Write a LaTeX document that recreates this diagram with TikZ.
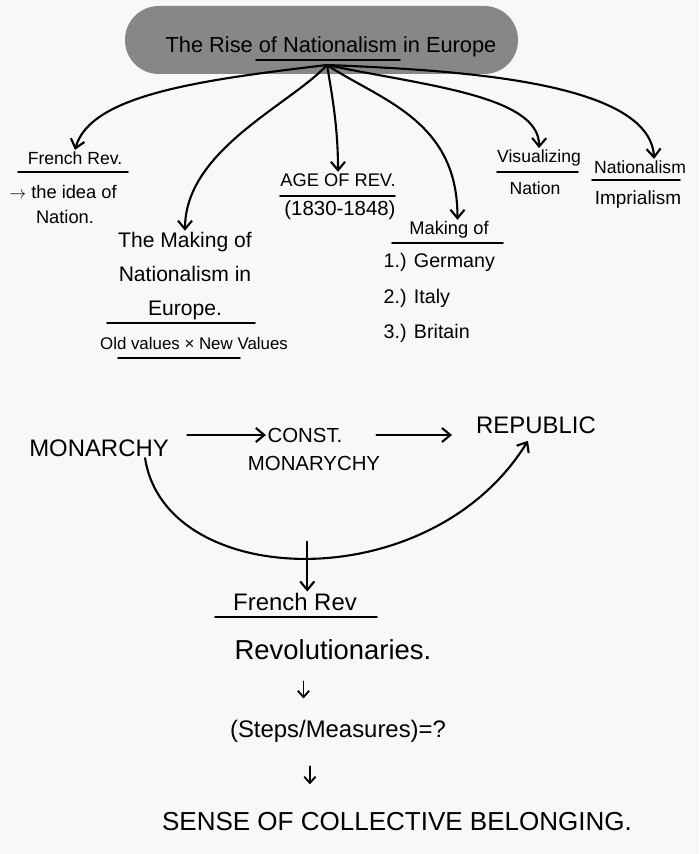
\documentclass[tikz,border=0pt]{standalone}
\usepackage{fontspec}
\setmainfont{Liberation Sans}
\usetikzlibrary{arrows.meta,calc}
\definecolor{paper}{RGB}{250,248,247}
\definecolor{blobgray}{RGB}{135,135,135}
\tikzset{
  txt/.style 2 args={inner sep=1pt, font=\fontsize{#1}{#2}\selectfont},
  arr/.style={line width=1.5pt, line cap=round, -{Straight Barb[length=6pt,width=10pt]}},
  arrs/.style={line width=1.3pt, line cap=round, -{Straight Barb[length=4.5pt,width=8pt]}},
  uline/.style={line width=1.3pt, line cap=round},
  blob/.style={fill=blobgray, rounded corners=24pt}
}
\begin{document}
\begin{tikzpicture}[x=0.025cm, y=0.025cm]
\fill[paper] (0,0) rectangle (699,-854);
\useasboundingbox (0,0) rectangle (699,-854);

% Title
\fill[blob] (125,-6) rectangle (518,-74);
\node[txt={15.5}{18}] (title) at (331,-47) {The Rise of Nationalism in Europe};
\draw[uline] (256,-60) -- (400,-60);
\coordinate (hub) at (327,-65);

% Topics
\node[txt={12.5}{15}] (frenchrev) at (75,-158) {French Rev.};
\draw[uline] (18,-172) -- (128,-172);
\node[txt={13}{15}] (idea) at (63,-192) {$\rightarrow$ the idea of};
\node[txt={13}{15}] (nation) at (65,-217) {Nation.};

\node[txt={15}{24}, align=center] (making) at (185,-276) {The Making of\\Nationalism in\\Europe.};
\draw[uline] (107,-323) -- (255,-323);
\node[txt={12}{14}] (oldnew) at (194,-343) {Old values × New Values};
\draw[uline] (118,-358) -- (240,-358);

\node[txt={13}{15}] (agerev) at (338,-180) {AGE OF REV.};
\draw[uline] (280,-196) -- (395,-196);
\node[txt={14.5}{17}] (years) at (340,-210) {(1830-1848)};

\node[txt={13}{15}] (makingof) at (449,-230) {Making of};
\draw[uline] (392,-243) -- (503,-243);
\node[txt={14}{25}, align=left, anchor=west] (states) at (382,-298) {1.) Germany\\2.) Italy\\3.) Britain};

\node[txt={12.5}{15}] (visual) at (539,-158) {Visualizing};
\draw[uline] (497,-172) -- (578,-172);
\node[txt={12.5}{15}] (nation2) at (535,-188) {Nation};

\node[txt={12.5}{15}] (nat) at (640,-167) {Nationalism};
\draw[uline] (592,-180) -- (680,-180);
\node[txt={13.5}{15}] (impr) at (638,-200) {Imprialism};

% Branches
\draw[arr] (hub) .. controls (200,-80) and (90,-95) .. (frenchrev.north);
\draw[arr] (hub) .. controls (290,-105) and (185,-150) .. (making.north);
\draw[arr] (hub) .. controls (333,-100) and (338,-130) .. (agerev.north);
\draw[arr] (hub) .. controls (380,-100) and (458,-120) .. ([xshift=6pt]makingof.north);
\draw[arr] (hub) .. controls (420,-85) and (540,-95) .. (visual.north);
\draw[arr] (hub) .. controls (450,-70) and (650,-80) .. ([xshift=10pt]nat.north);

% Forms of government
\node[txt={17}{20}] (mon) at (99,-448) {MONARCHY};
\node[txt={14.5}{17}] (const) at (305,-435) {CONST.};
\node[txt={14.5}{17}] (constb) at (314,-463) {MONARYCHY};
\node[txt={17}{20}] (rep) at (536,-425) {REPUBLIC};

\draw[arr, shorten <=12pt] (mon.east |- const.west) -- (const.west);
\draw[arr, shorten <=23pt, shorten >=16pt] (const.east) -- (const.east -| rep.west);
\draw[arr] ([xshift=-18pt]mon.south east) .. controls (165,-590) and (430,-600) ..
  ([shift={(38pt,-4pt)}]rep.south west) coordinate[pos=0.5] (low);

% Lower chain
\node[txt={17}{20}] (frev2) at (295,-602) {French Rev};
\draw[uline] (215,-617) -- (377,-617);
\node[txt={19.5}{22}] (revs) at (333,-650) {Revolutionaries.};
\node[txt={17}{20}] (steps) at (338,-731) {(Steps/Measures)=?};
\node[txt={18.5}{22}] (sense) at (397,-822) {SENSE OF COLLECTIVE BELONGING.};

\draw[arr] ([yshift=12pt]low) -- (low |- frev2.north);
\draw[arrs, shorten <=14pt, shorten >=14pt] ([xshift=-21pt]revs.south) -- ([xshift=-21pt]revs.south |- steps.north);
\draw[arrs, shorten <=16pt, shorten >=19pt] ([xshift=-20pt]steps.south) -- ([xshift=-20pt]steps.south |- sense.north);
\end{tikzpicture}
\end{document}
